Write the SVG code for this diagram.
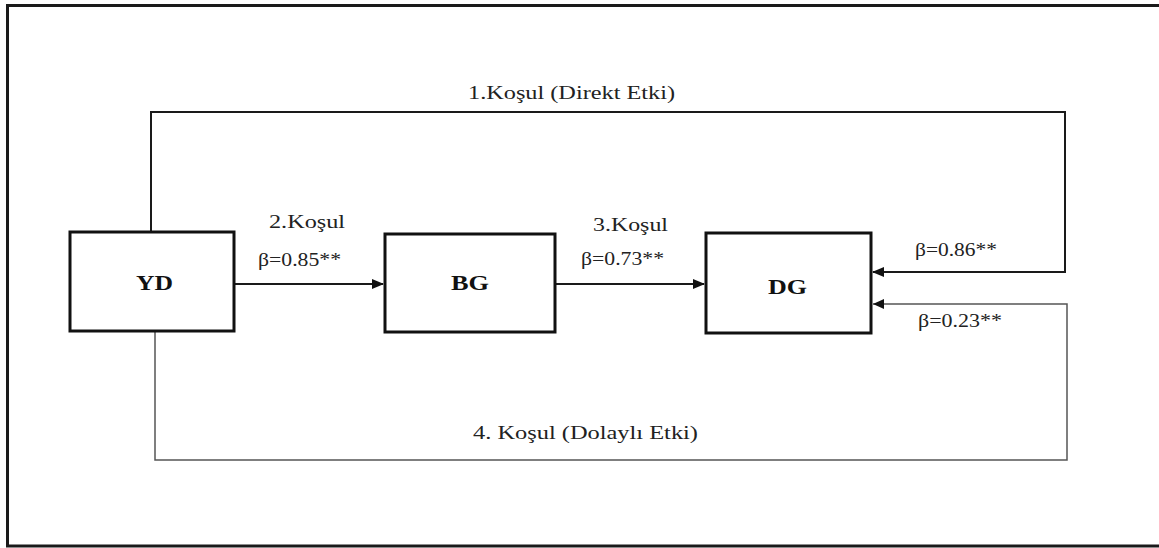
<svg xmlns="http://www.w3.org/2000/svg" width="1159" height="548" viewBox="0 0 1159 548">
  <style>
    .frame { fill: none; stroke: #1a1a1a; stroke-width: 3; }
    .box { fill: #ffffff; stroke: #111111; stroke-width: 3; }
    .node-label { font-family: "Liberation Serif", "Times New Roman", serif; font-size: 21px; font-weight: bold; fill: #111111; }
    .lbl { font-family: "Liberation Serif", "Times New Roman", serif; font-size: 18.5px; fill: #222222; }
    .wire { fill: none; stroke: #1a1a1a; stroke-width: 2; }
    .wire-thin { fill: none; stroke: #555555; stroke-width: 1.5; }
  </style>
  <defs>
    <marker id="arrow" markerWidth="12" markerHeight="10" refX="11" refY="5" orient="auto" markerUnits="userSpaceOnUse">
      <path d="M0,0 L12,5 L0,10 Z" fill="#111111"/>
    </marker>
  </defs>

  <rect width="1159" height="548" fill="#ffffff"/>
  <!-- outer frame, open on the right -->
  <path class="frame" d="M1162,5.5 L7.5,5.5 L7.5,546 L1162,546"/>

  <!-- connectors -->
  <g id="connectors">
    <!-- 1. direct path over the top -->
    <path class="wire" d="M151,232 L151,112 L1065,112 L1065,272 L873,272" marker-end="url(#arrow)"/>
    <!-- 2. YD to BG -->
    <path class="wire" d="M234,284 L383,284" marker-end="url(#arrow)"/>
    <!-- 3. BG to DG -->
    <path class="wire" d="M555,284 L704,284" marker-end="url(#arrow)"/>
    <!-- 4. indirect path along the bottom -->
    <path class="wire-thin" d="M155,332 L155,460 L1067,460 L1067,304 L873,304"/>
    <path d="M873,304 L884,299 L884,309 Z" fill="#111111"/>
  </g>

  <g id="node-YD">
    <rect class="box" x="70" y="232" width="164" height="99"/>
    <text class="node-label" x="136" y="290" textLength="37" lengthAdjust="spacingAndGlyphs">YD</text>
  </g>
  <g id="node-BG">
    <rect class="box" x="385" y="234" width="170" height="98"/>
    <text class="node-label" x="451" y="290" textLength="38" lengthAdjust="spacingAndGlyphs">BG</text>
  </g>
  <g id="node-DG">
    <rect class="box" x="706" y="233" width="165" height="100"/>
    <text class="node-label" x="768" y="294" textLength="39" lengthAdjust="spacingAndGlyphs">DG</text>
  </g>

  <g id="labels">
    <text class="lbl" x="468" y="99" textLength="207" lengthAdjust="spacingAndGlyphs">1.Koşul (Direkt Etki)</text>
    <text class="lbl" x="269" y="228" textLength="76" lengthAdjust="spacingAndGlyphs">2.Koşul</text>
    <text class="lbl" x="258" y="266" textLength="83" lengthAdjust="spacingAndGlyphs">β=0.85**</text>
    <text class="lbl" x="593" y="231" textLength="75" lengthAdjust="spacingAndGlyphs">3.Koşul</text>
    <text class="lbl" x="581" y="265" textLength="83" lengthAdjust="spacingAndGlyphs">β=0.73**</text>
    <text class="lbl" x="915" y="256" textLength="82" lengthAdjust="spacingAndGlyphs">β=0.86**</text>
    <text class="lbl" x="918" y="327" textLength="84" lengthAdjust="spacingAndGlyphs">β=0.23**</text>
    <text class="lbl" x="473" y="439" textLength="225" lengthAdjust="spacingAndGlyphs">4. Koşul (Dolaylı Etki)</text>
  </g>
</svg>
